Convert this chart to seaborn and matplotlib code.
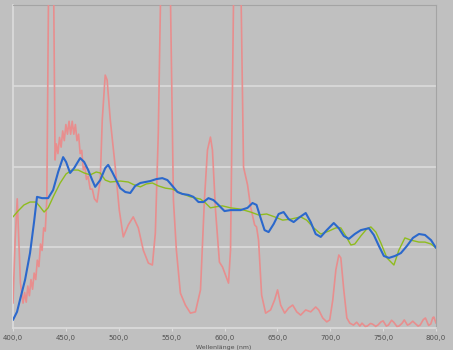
import matplotlib
matplotlib.use("Agg")
import matplotlib.pyplot as plt
import seaborn as sns
import pandas as pd

# ---------------- data ----------------
red_nm = [400, 402, 404, 405.5, 407, 409.5, 411, 412.5, 414, 415.5, 417, 418.5, 420, 421.5,
          423, 424.5, 426, 427.5, 429, 430.5, 432,
          436, 439.8, 441, 442.5, 444, 445.5, 447, 448.5, 450, 451.5, 453, 454.5, 456, 457.5,
          459, 460.5, 462, 463.5, 465, 466.5, 468, 469.5, 471, 473, 475, 477, 479.5,
          482.5, 484.4, 487.2, 489, 492, 496.7, 500.5, 504.3, 509, 513.7,
          518.5, 523.2, 528, 531.8, 534.6, 537.4, 544.5, 551.7, 554.5, 558.3, 563, 567.8,
          572.5, 577.3, 581, 583.9, 586.7, 588.6, 591.5, 595.2, 598.1, 600.9, 603.8, 605.7,
          611.8, 618, 621.8, 624.7, 628.5, 630.3, 632.2, 635.1, 638.9, 643.6, 647.4, 650.2,
          653.1, 656.9, 660.7, 664.5, 668.3, 672, 676.8, 681.5, 686.2, 689.1, 692.9, 696.7,
          699.5, 702.4, 705.3, 708.1, 710, 712.8, 715.7, 718.5, 722, 725, 728, 730, 733, 735,
          738, 740, 743, 745, 748, 750, 753, 755, 758, 760, 763, 765, 768, 770, 773, 775, 778,
          780, 783, 785, 788, 790, 793, 795, 797, 798, 800]
red_val = [7.7, 27, 40, 27, 14, 7.7, 11, 8, 13, 10, 15, 12, 17, 15,
           21, 19, 26, 24, 31, 30, 40,
           200, 52, 57, 54, 59, 56, 61, 58, 63, 60, 64, 60, 64, 60,
           63, 58, 60, 54, 55, 49, 50, 46, 47, 43, 43, 40, 39,
           45.8, 64.4, 78.3, 76.8, 64.4, 49.8, 36.5, 28.2, 31.9, 34.4,
           31, 24.1, 20.1, 19.5, 29.4, 60.4, 200, 39.6, 24.1, 10.8, 7.1, 4.6,
           5, 11.8, 39.6, 55.1, 59.1, 55.1, 36.5, 20.4, 18.9, 16.4, 13.9, 24.1,
           190, 49.8, 44.3, 37.5, 31.9, 31.3, 27.2, 10.2, 4.6, 5.6, 8.7, 11.8,
           7.1, 4.6, 6.2, 7.1, 5, 4, 5.6, 5, 6.5, 5.6, 3.1, 1.9,
           2.5, 8.7, 18, 22.6, 21.7, 11.8, 3.1, 1.5, 0.9, 1.8, 0.6, 1.5, 0.5, 0.6,
           1.4, 1.2, 0.5, 0.9, 1.9, 2.2, 0.6, 0.9, 2.4, 1.8, 0.5, 0.6, 1.5, 2.5, 0.9, 1.2, 2.1,
           1.5, 0.6, 0.9, 2.6, 3.1, 0.8, 1.2, 3.2, 3.4, 1.5]

blue_nm = [400, 403.8, 406.6, 411.4, 416.1, 419.9, 422.7, 427.5, 433.2, 437.9, 442.7,
           447.4, 450.2, 454, 457.8, 463.5, 467.3, 471.1, 474.9, 477.7, 482.5, 487.2,
           490, 493.8, 497.6, 501.4, 506.2, 510.9, 515.6, 520.4, 525.1, 529.9, 535.5,
           541.2, 546, 550.7, 555.5, 560.2, 565.9, 570.6, 575.4, 580.1, 584.8, 589.6,
           594.3, 600, 605.7, 615.2, 621.8, 626.5, 630.3, 634.1, 637.9, 641.7, 646.5,
           651.2, 655.9, 660.7, 665.4, 670.2, 676.8, 681.5, 686.2, 691, 696.7, 703.3,
           708.1, 712.8, 717.6, 723.2, 728.9, 736.5, 741.2, 746, 750.7, 755.5, 761.2,
           766.8, 772.5, 778.2, 783.9, 789.6, 795.3, 800]
blue_val = [2.5, 5, 8.7, 14.9, 23.2, 32.8, 40.6, 40.2, 40.2, 42.7, 48.3,
            52.9, 51.4, 48, 49.5, 52.6, 51.4, 48.9, 45.8, 43.7, 45.8, 49.5,
            50.5, 48.3, 45.8, 43.3, 42.1, 41.8, 44, 44.9, 45.2, 45.5, 46.1,
            46.4, 45.8, 44, 42.1, 41.5, 41.2, 40.6, 39, 39, 40.2, 39.6,
            38.1, 36.2, 36.5, 36.5, 37.2, 38.7, 38.1, 34.1, 30.3, 29.7, 32.2,
            35.3, 35.9, 33.7, 32.8, 34.1, 35.6, 32.8, 29.1, 28.2, 30.3, 32.5,
            30.9, 28.5, 27.6, 29.1, 30.3, 30.9, 28.8, 25.4, 22.3, 21.7, 22.3,
            23.2, 25.4, 27.9, 29.1, 28.8, 27.2, 24.8]

green_nm = [400, 404.7, 410.4, 416.1, 421.8, 425.6, 429.4, 433.2, 438.9, 444.6, 450.2,
            455.9, 461.6, 467.3, 473, 478.7, 482.5, 487.2, 492, 501.4, 509, 514.7, 520.4,
            526.1, 531.8, 537.4, 544.1, 550.7, 558.3, 567.8, 577.3, 582, 586.7, 591.5,
            598.1, 605.7, 615.2, 624.7, 632.2, 639.8, 647.4, 655, 662.6, 672, 677.7,
            684.4, 691, 698.6, 705.3, 710, 714.7, 719.5, 723.2, 728.9, 734.6, 738.4,
            743.1, 747.9, 753.6, 760.2, 764.9, 770.6, 776.3, 783.9, 789.6, 795.3, 800]
green_val = [34.4, 36.2, 38.1, 39, 39, 37.5, 35.9, 37.2, 41.2, 44.9, 47.7,
             48.9, 48.9, 48, 47.4, 48.3, 48, 45.8, 45.2, 45.5, 45.2, 44.3, 43.7,
             44.6, 44.9, 44, 43.3, 43, 41.8, 40.6, 39.9, 38.7, 37.2, 37.5,
             37.8, 37.2, 36.8, 35.9, 35, 35.3, 34.4, 33.4, 33.7, 34.4, 33.4,
             31, 29.1, 30, 31, 31, 28.5, 25.7, 26, 28.5, 30.7, 31.3,
             29.7, 26.3, 21.7, 19.5, 24.1, 27.9, 27.2, 26.6, 26.6, 26, 24.8]

x_ticks = [400, 450, 500, 550, 600, 650, 700, 750, 800]
x_tick_labels = ["400,0", "450,0", "500,0", "550,0", "600,0", "650,0", "700,0", "750,0", "800,0"]
y_grid = [25, 50, 75]
x_title = "Wellenlänge (nm)"

# ---------------- plot ----------------
sns.set_theme(style="white")
plt.rcParams["font.family"] = ["DejaVu Sans"]

BG = "#c0c0c0"
fig = plt.figure(figsize=(4.53, 3.5), dpi=100, facecolor=BG)
ax = fig.add_axes([13 / 453, 1 - 328 / 350, (436 - 13) / 453, (328 - 5) / 350])
ax.set_facecolor(BG)

df_r = pd.DataFrame({"nm": red_nm, "v": red_val})
df_b = pd.DataFrame({"nm": blue_nm, "v": blue_val})
df_g = pd.DataFrame({"nm": green_nm, "v": green_val})

sns.lineplot(data=df_r, x="nm", y="v", ax=ax, color="#e88e8e", lw=1.2, estimator=None, zorder=3)
sns.lineplot(data=df_g, x="nm", y="v", ax=ax, color="#8fbc1e", lw=1.0, estimator=None, zorder=4)
sns.lineplot(data=df_b, x="nm", y="v", ax=ax, color="#2b68cc", lw=1.5, estimator=None, zorder=5)

ax.set_xlim(400, 800)
ax.set_ylim(0, 100)
ax.set_yticks(y_grid)
ax.set_yticklabels([])
ax.tick_params(axis="y", length=0)
ax.yaxis.grid(True, color="#d6d6d6", lw=1.5)
ax.xaxis.grid(False)
ax.set_axisbelow(True)

ax.set_xticks(x_ticks)
ax.set_xticklabels(x_tick_labels, fontsize=5, color="#505050")
ax.tick_params(axis="x", length=2, width=0.8, color="#dcdcdc", pad=3, bottom=True)

ax.set_xlabel("")
ax.set_ylabel("")
fig.text(224 / 453, 0.5 / 350, x_title, fontsize=4.5, color="#505050",
         ha="center", va="bottom")

for side in ["left", "bottom"]:
    ax.spines[side].set_color("#dcdcdc")
    ax.spines[side].set_linewidth(1.2)
for side in ["right", "top"]:
    ax.spines[side].set_color("#a4a4a4")
    ax.spines[side].set_linewidth(0.8)

fig.savefig("out.png", dpi=100, facecolor=BG)
